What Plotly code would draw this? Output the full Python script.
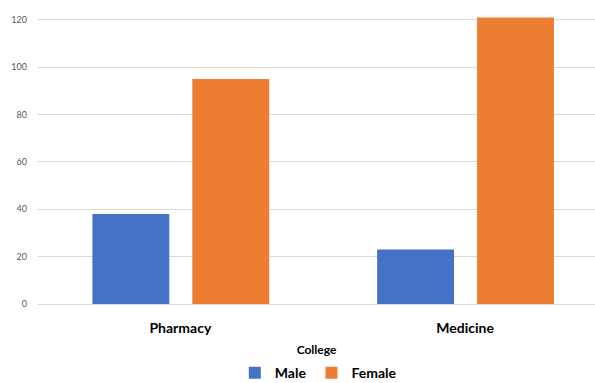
import plotly.graph_objects as go

colleges = ["Pharmacy", "Medicine"]
male = [38, 23]
female = [95, 121]
y_ticks = [0, 20, 40, 60, 80, 100, 120]

FONT = "Lato"

fig = go.Figure()
fig.add_trace(go.Bar(
    name="Male", x=colleges, y=male,
    marker=dict(color="#4472C4", line=dict(width=0)),
    width=0.27, offset=-0.309,
))
fig.add_trace(go.Bar(
    name="Female", x=colleges, y=female,
    marker=dict(color="#ED7D31", line=dict(width=0)),
    width=0.27, offset=0.042,
))

fig.update_layout(
    width=595, height=383,
    margin=dict(l=38, r=0, t=0, b=79, autoexpand=False),
    paper_bgcolor="white", plot_bgcolor="white",
    barmode="overlay",
    font=dict(family=FONT, color="#000000"),
    xaxis=dict(
        range=[-0.5, 1.456],
        showgrid=False, zeroline=False,
        showline=False,
        ticks="", ticklabelstandoff=14,
        tickfont=dict(family=FONT, size=14, color="#000000", weight="bold"),
        title=dict(text="<b>College</b>", standoff=11,
                   font=dict(family=FONT, size=12, color="#000000")),
    ),
    yaxis=dict(
        range=[0, 128.4],
        tickvals=y_ticks,
        showgrid=True, gridcolor="#D9D9D9", gridwidth=1,
        zeroline=True, zerolinecolor="#D9D9D9", zerolinewidth=1,
        showline=False, ticks="",
        ticklabelstandoff=10,
        tickfont=dict(family=FONT, size=9, color="#595959"),
    ),
    legend=dict(
        orientation="h",
        xref="container", yref="container",
        x=0.535, xanchor="center",
        y=0.026, yanchor="middle",
        font=dict(family=FONT, size=14, color="#000000", weight="bold"),
        itemwidth=30,
        traceorder="normal",
    ),
)

fig.write_html("out.html")
